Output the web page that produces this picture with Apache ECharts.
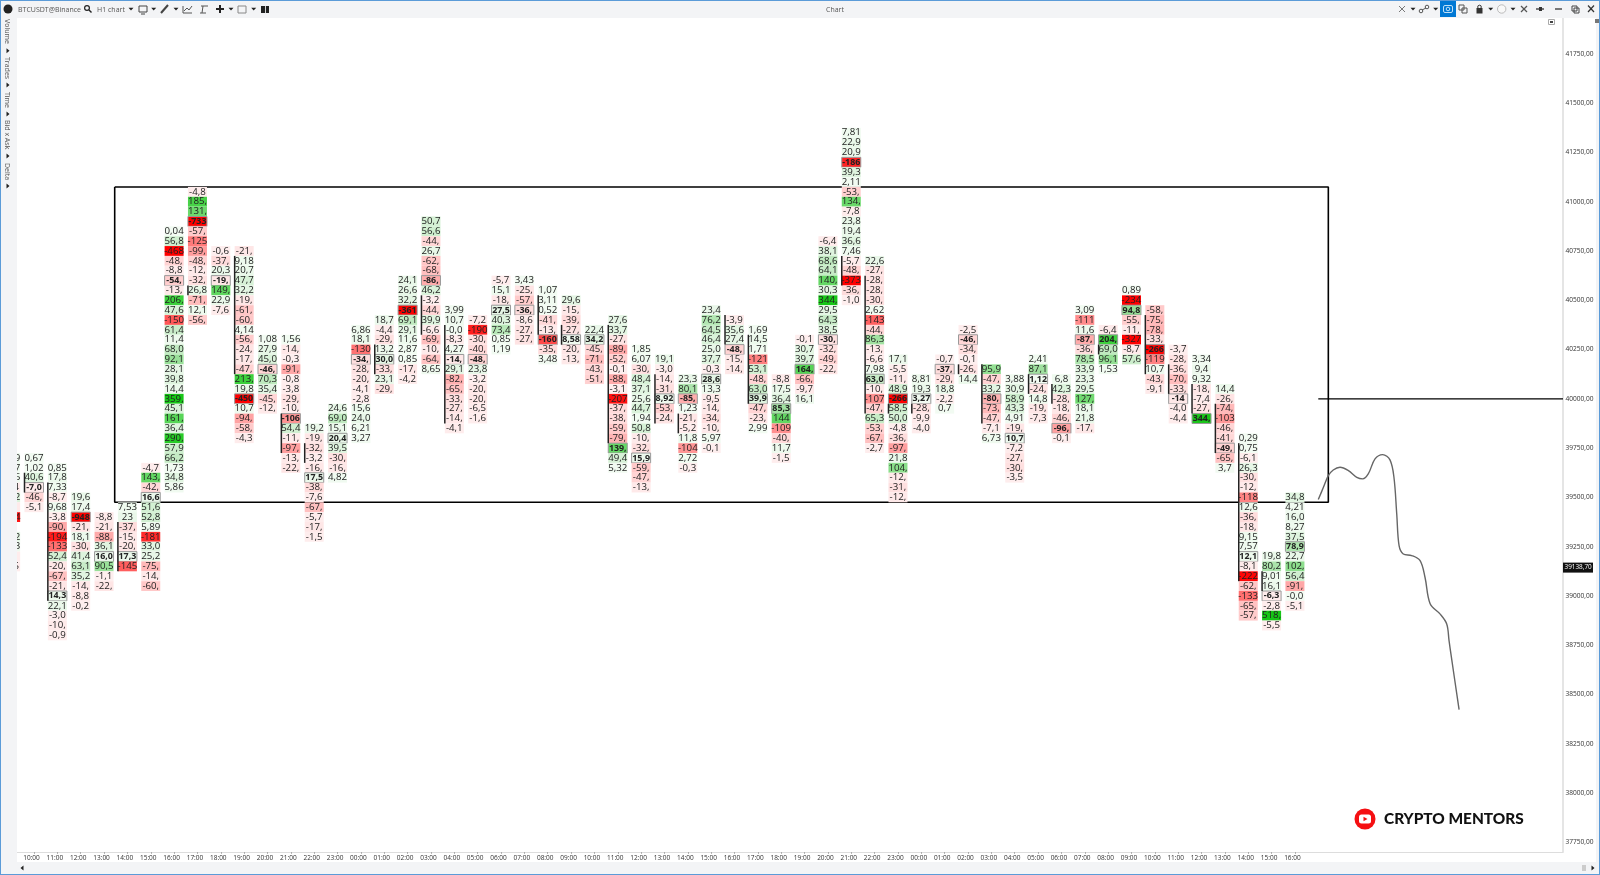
<!DOCTYPE html>
<html><head><meta charset="utf-8"><title>BTCUSDT@Binance H1 chart</title>
<script src="https://cdn.jsdelivr.net/npm/echarts@6/dist/echarts.min.js"></script>
<style>html,body{margin:0;padding:0;background:#fff}#c{width:1600px;height:875px}</style></head>
<body><div id="c"></div>
<script>
// ---- data ----
const hours = ['10:00','11:00','12:00','13:00','14:00','15:00','16:00','17:00','18:00','19:00','20:00','21:00','22:00','23:00','00:00','01:00','02:00','03:00','04:00','05:00','06:00','07:00','08:00','09:00','10:00','11:00','12:00','13:00','14:00','15:00','16:00','17:00','18:00','19:00','20:00','21:00','22:00','23:00','00:00','01:00','02:00','03:00','04:00','05:00','06:00','07:00','08:00','09:00','10:00','11:00','12:00','13:00','14:00','15:00','16:00'];
const priceTicks = [37750,38000,38250,38500,38750,39000,39250,39500,39750,40000,40250,40500,40750,41000,41250,41500,41750];
const lastPrice = 39138.70;
const firstColumn = -1;
// price of the top row of each column (first entry is the clipped 09:00 column)
const topPrice = [39700,39700,39650,39500,39400,39450,39650,40850,41050,40750,40750,40300,40300,39850,39950,40350,40400,40600,40900,40450,40400,40600,40600,40550,40500,40350,40400,40250,40200,40100,40450,40400,40350,40100,40300,40800,41350,40700,40200,40100,40200,40350,40150,40100,40200,40100,40450,40350,40550,40450,40250,40200,40050,39800,39200,39500];
const cells = [
['8,29','1,27','7,86','-8,4','42,2','-9,','-204','','32,2','9,73','-4,','-5,5'],
['0,67','1,02','40,6','-7,0','-46,','-5,1'],
['0,85','17,8','7,33','-8,7','9,68','-3,8','-90,','-194','-133','52,4','-20,','-67,','-21,','14,3','22,1','-3,0','-10,','-0,9'],
['19,6','17,4','-948','-21,','18,1','-30,','41,4','63,1','35,2','-14,','-8,8','-0,2'],
['-8,8','-21,','-88,','36,1','16,0','90,5','-1,1','-22,'],
['7,53','23','-37,','-15,','-20,','17,3','-145'],
['-4,7','143,','-42,','16,6','51,6','52,8','5,89','-181','33,0','25,2','-75,','-14,','-60,'],
['0,04','56,8','-468','-48,','-8,8','-54,','-13,','206,','47,6','-150','61,4','11,4','68,0','92,1','28,1','39,8','14,4','359,','45,1','161,','36,4','290,','57,9','66,2','1,73','34,8','5,86'],
['-4,8','185,','131,','-733','-57,','-125','-99,','-48,','-12,','-32,','26,8','-71,','12,1','-56,'],
['-0,6','-37,','20,3','-19,','149,','22,9','-7,6'],
['-21,','9,18','20,7','47,7','32,2','-19,','-61,','-60,','4,14','-56,','-24,','-17,','-47,','213,','19,8','-450','10,7','-94,','-58,','-4,3'],
['1,08','27,9','45,0','-46,','70,3','35,4','-45,','-12,'],
['1,56','-14,','-0,3','-91,','-0,8','-3,8','-29,','-10,','-106','54,4','-11,','-97,','-13,','-22,'],
['19,2','-19,','-32,','-3,2','-16,','17,5','-38,','-7,6','-67,','-5,7','-17,','-1,5'],
['24,6','69,0','15,1','20,4','39,5','-30,','-16,','4,82'],
['6,86','18,1','-130','-34,','-28,','-20,','-4,1','-2,8','15,6','24,0','6,21','3,27'],
['18,7','-4,4','-29,','13,2','30,0','-33,','23,1','-29,'],
['24,1','26,6','32,2','-361','69,1','29,1','11,6','2,87','0,85','-17,','-4,2'],
['50,7','56,6','-44,','26,7','-62,','-68,','-86,','46,2','-3,2','-44,','39,9','-6,6','-69,','-10,','-64,','8,65'],
['3,99','10,7','-0,0','-8,3','4,27','-14,','29,1','-82,','-65,','-33,','-27,','-14,','-4,1'],
['-7,2','-190','-30,','-40,','-48,','23,8','-3,2','-20,','-20,','-6,5','-1,6'],
['-5,7','15,1','-18,','27,5','40,3','73,4','0,85','1,19'],
['3,43','-25,','-57,','-36,','-8,6','-27,','-27,'],
['1,07','3,11','0,52','-41,','-13,','-160','-35,','3,48'],
['29,6','-15,','-39,','-27,','8,58','-20,','-13,'],
['22,4','34,2','-45,','-71,','-43,','-51,'],
['27,6','33,7','-27,','-89,','-52,','-0,1','-88,','-3,1','-207','-37,','-38,','-59,','-79,','139,','49,4','5,32'],
['1,85','6,07','-30,','48,4','37,1','25,6','44,7','1,94','50,8','-10,','-32,','15,9','-59,','-47,','-13,'],
['19,1','-3,0','-14,','-31,','8,92','-53,','-24,'],
['23,3','80,1','-85,','1,23','-21,','-5,2','11,8','-104','2,72','-0,3'],
['23,4','76,2','64,5','46,4','25,0','37,7','-0,3','28,6','13,3','-9,5','-14,','-34,','-10,','5,97','-0,1'],
['-3,9','35,6','27,4','-48,','-15,','-14,'],
['1,69','14,5','1,71','-121','53,1','-48,','63,0','39,9','-47,','-23,','2,99'],
['-8,8','17,5','36,4','85,3','144','-109','-40,','11,7','-1,5'],
['-0,1','30,7','39,7','164,','-66,','-9,7','16,1'],
['-6,4','38,1','68,6','64,1','140,','30,3','344,','29,5','64,3','38,5','-30,','-32,','-49,','-22,'],
['7,81','22,9','20,9','-186','39,3','2,11','-53,','134,','-7,8','23,8','19,4','36,6','7,46','-5,7','-48,','-373','-36,','-1,0'],
['22,6','-27,','-28,','-28,','-30,','2,62','-143','-44,','86,3','-13,','-6,6','7,98','63,0','-10,','-107','-47,','65,3','-53,','-67,','-2,7'],
['17,1','-5,5','-11,','48,9','-266','58,5','50,0','-4,8','-36,','-97,','21,8','104,','-12,','-31,','-12,'],
['8,81','19,3','3,27','-28,','-9,9','-4,0'],
['-0,7','-37,','-29,','18,8','-2,2','0,7'],
['-2,5','-46,','-34,','-0,1','-26,','14,4'],
['95,9','-47,','33,2','-80,','-73,','-47,','-7,1','6,73'],
['3,88','30,9','58,9','43,3','4,91','-19,','10,7','-7,2','-27,','-30,','-3,5'],
['2,41','87,1','1,12','-24,','14,8','-19,','-7,3'],
['6,8','42,3','-28,','-18,','-46,','-96,','-0,1'],
['3,09','-111','11,6','-87,','-36,','78,5','33,9','23,3','29,5','127,','18,1','21,8','-17,'],
['-6,4','204,','69,0','96,1','1,53'],
['0,89','-234','94,8','-55,','-11,','-327','-8,7','57,6'],
['-58,','-75,','-78,','-33,','-266','-119','10,7','-43,','-9,1'],
['-3,7','-28,','-36,','-70,','-33,','-14','-4,0','-4,4'],
['3,34','9,4','9,32','-18,','-7,4','-27,','344,'],
['14,4','-26,','-74,','-103','-46,','-41,','-49,','-65,','3,7'],
['0,29','0,75','-6,1','26,3','-30,','-12,','-118','12,6','-36,','-18,','9,15','7,57','12,1','-8,1','-222','-62,','-133','-65,','-57,'],
['19,8','80,2','9,01','16,1','-6,3','-2,8','518,','-5,5'],
['34,8','4,21','16,0','8,27','37,5','78,9','22,7','102,','56,4','-91,','-0,0','-5,1']
];
// row of the point of control in each column (-1 = none visible)
const pocRow = [-1,3,13,2,4,5,3,5,3,3,15,3,8,5,3,3,4,3,6,5,4,3,3,5,4,1,13,11,4,2,7,3,7,3,3,10,3,12,4,2,1,1,3,6,2,5,3,1,2,4,5,6,6,12,4,5];
// first and last row of the value-area bar in each column (-1 = no bar)
const vaFrom = [-1,2,2,-1,-1,2,-1,-1,10,-1,1,-1,8,2,-1,-1,3,-1,8,2,-1,-1,-1,1,3,-1,1,-1,2,4,-1,0,1,-1,-1,-1,13,2,5,3,-1,4,0,-1,2,1,-1,2,-1,1,2,3,2,1,2,-1];
const vaTo   = [-1,3,13,-1,-1,6,-1,-1,10,-1,12,-1,11,3,-1,-1,5,-1,11,11,-1,-1,-1,4,4,-1,12,-1,6,5,-1,2,7,-1,-1,-1,15,15,5,3,-1,4,5,-1,3,2,-1,2,-1,6,4,5,6,14,3,-1];
// annotations drawn on the chart, in candle index / price units
const boxLeft = 3.456, boxRight = 55.43, boxTop = 41075, boxBottom = 39475;
const levelPrice = 40000, levelStart = 55;
const sketchIndex = [55.0,55.22,55.43,55.64,55.93,56.29,56.65,56.9,57.14,57.43,57.76,58.07,58.24,58.36,58.46,58.64,59.0,59.36,59.57,59.79,60.21,60.5,60.6,60.68,61.03];
const sketchPrice = [39489,39551,39610,39639,39653,39636,39602,39594,39619,39695,39717,39690,39602,39416,39255,39213,39205,39179,39095,38960,38909,38858,38773,38706,38423];

// ---- helpers ----
const FONT = '"Open Sans",sans-serif';
const STEP = 50, XMIN = -0.728, XMAX = 65.48, YMIN = 37701, YMAX = 41932;
function lerp(a,b,t){return a.map((v,i)=>Math.round(v+(b[i]-v)*t));}
function ramp(st,v){
  for(let i=1;i<st.length;i++){ if(v<=st[i][0]){
    const t=(v-st[i-1][0])/(st[i][0]-st[i-1][0]);
    const c=lerp(st[i-1][1],st[i][1],Math.max(0,t)); return 'rgb('+c.join(',')+')'; } }
  const c=st[st.length-1][1]; return 'rgb('+c.join(',')+')';
}
const redRamp=[[0,[254,238,238]],[25,[254,228,228]],[50,[255,210,210]],[90,[255,168,168]],[130,[255,115,115]],[190,[255,30,30]],[230,[255,0,0]]];
const greenRamp=[[0,[242,251,242]],[25,[232,247,232]],[45,[218,242,218]],[65,[198,235,198]],[90,[154,224,154]],[135,[104,216,104]],[200,[62,208,62]],[350,[22,198,22]]];
function fill(v){return v<0?ramp(redRamp,-v):ramp(greenRamp,v);}
const rows=[]; const bars=[];
cells.forEach((col,c)=>{
  col.forEach((s,r)=>{ if(s==='')return;
    const isPoc=pocRow[c]===r;
    rows.push({x:c+firstColumn,p:topPrice[c]-STEP*r,s:s,v:parseFloat(s.replace(',','.')),poc:isPoc});
  });
  if(vaFrom[c]>=0) bars.push({x:c+firstColumn,from:topPrice[c]-STEP*vaFrom[c]+STEP/2,to:topPrice[c]-STEP*vaTo[c]-STEP/2});
});
function cellItem(params,api){
  const d=rows[params.dataIndex];
  const pt=api.coord([d.x,d.p]);
  const w=api.size([0.814,0])[0], h=api.size([0,STEP])[1];
  const kids=[{type:'rect',shape:{x:pt[0]-w/2,y:pt[1]-h/2,width:w,height:h},
    style:{fill:fill(d.v),stroke:d.poc?'#999':null,lineWidth:d.poc?1:0}},
    {type:'text',style:{text:d.s,x:pt[0],y:pt[1],align:'center',verticalAlign:'middle',
      font:(d.poc?'700 8.9px ':'400 9.7px ')+FONT,fill:'#222'}}];
  return {type:'group',children:kids};
}
function barItem(params,api){
  const d=bars[params.dataIndex];
  const a=api.coord([d.x,d.from]), b=api.coord([d.x,d.to]);
  const w=api.size([0.814,0])[0];
  return {type:'line',shape:{x1:a[0]-w/2,y1:a[1],x2:b[0]-w/2,y2:b[1]},style:{stroke:'#222',lineWidth:1.5}};
}
function tagItem(params,api){
  const pt=api.coord([XMAX,lastPrice]);
  return {type:'group',children:[
    {type:'rect',shape:{x:pt[0],y:pt[1]-6,width:30,height:10},style:{fill:'#111'}},
    {type:'text',style:{text:lastPrice.toFixed(2).replace('.',','),x:pt[0]+1.5,y:pt[1]-1,align:'left',verticalAlign:'middle',font:'6.4px '+FONT,fill:'#fff'}}
  ]};
}
// ---- window chrome ----
const G=[];
const bg='#f3f4f6', ink='#555';
function R(x,y,w,h,f,z){G.push({type:'rect',shape:{x,y,width:w,height:h},style:{fill:f},z:z||10,silent:true});}
function T(t,x,y,o){G.push(Object.assign({type:'text',x,y,z:12,silent:true,style:Object.assign({text:t,font:'7px '+FONT,fill:ink,align:'left',verticalAlign:'middle'},o||{})}));}
function tri(x,y,d){const p=d==='r'?[[x-1.5,y-2.5],[x+1.5,y],[x-1.5,y+2.5]]:d==='l'?[[x+1.5,y-2.5],[x-1.5,y],[x+1.5,y+2.5]]:[[x-2.5,y-1.2],[x+2.5,y-1.2],[x,y+1.5]];
  G.push({type:'polygon',shape:{points:p},style:{fill:'#222'},z:12,silent:true});}
function L(x1,y1,x2,y2,c,w){G.push({type:'line',shape:{x1,y1,x2,y2},style:{stroke:c||'#444',lineWidth:w||1},z:12,silent:true});}
function C(cx,cy,r,f,s,w){G.push({type:'circle',shape:{cx,cy,r},style:{fill:f||null,stroke:s||null,lineWidth:w||1},z:12,silent:true});}
function B(x,y,w,h,s){G.push({type:'rect',shape:{x,y,width:w,height:h},style:{fill:null,stroke:s||'#555',lineWidth:1},z:12,silent:true});}
R(0,0,1600,18,bg); R(0,18,17,844,bg); R(0,862,1600,13,bg); R(1596,18,4,844,bg);
R(0,0,1600,1,'#5b9bd8',13); R(0,0,1,875,'#5b9bd8',13); R(0,874,1600,1,'#5b9bd8',13); R(1599,0,1,875,'#5b9bd8',13);
C(8,9,4.5,'#222');
T('BTCUSDT@Binance',18,9.5);
C(87,8,2.4,null,'#222',1.2); L(89,10,91.5,12.5,'#222',1.4);
T('H1 chart',97,9.5); tri(131,9);
B(139,6,8,6,'#444'); L(141,14,145,14,'#444'); tri(153.7,9);
L(161,13,168,5,'#444',2); tri(176,9);
L(183,6,183,13,'#555'); L(183,13,192,13,'#555'); L(184,11,187,8,'#555'); L(187,8,189,10,'#555'); L(189,10,192,6,'#555');
L(201,6,208,6,'#555'); L(203,6,202,13,'#555'); L(200,13,206,13,'#555');
L(216,9,224,9,'#222',2); L(220,5,220,13,'#222',2); tri(231,9);
B(238,6,8,7,'#888'); tri(253.7,9);
R(261,6,8,7,'#222',12); R(265,6,.8,7,'#fff',13);
T('Chart',835,9.5,{align:'center'});
L(1399,6,1405,12,'#777'); L(1405,6,1399,12,'#777'); tri(1413,9);
C(1421,11,1.8,null,'#555'); C(1427,7,1.8,null,'#555'); L(1422,10,1426,8,'#555'); tri(1435.7,9);
R(1440,1,16,16,'#0078d4',12);
G.push({type:'rect',shape:{x:1443.5,y:5.5,width:9,height:7,r:1.5},style:{fill:null,stroke:'#bfe0f7',lineWidth:1},z:13,silent:true});
C(1448,9,1.8,null,'#bfe0f7');
B(1459,5,5,5,'#555'); B(1462,8,5,5,'#555');
R(1476.5,8,6,5.5,'#333',12); C(1479.5,7,1.8,null,'#333'); tri(1490.7,9);
C(1501.7,9,4.2,'#f8f8f8','#bbb'); tri(1513,9);
L(1521,6,1527,12,'#555',1.3); L(1527,6,1521,12,'#555',1.3);
L(1536,9,1544,9,'#333',1.3); R(1539,7,3,4,'#333',12);
L(1555,9,1562,9,'#333',1.3);
B(1572,6,5,5,'#444'); B(1574,8,5,5,'#444');
L(1588,5.5,1594,12,'#333',1.2); L(1594,5.5,1588,12,'#333',1.2);
B(1548.5,19.5,6,5,'#aaa'); R(1550,21,3,2,'#444',12);
R(1595,19,4,4,'#777',12);
const side=[['Volume',19],['Trades',57],['Time',92],['Bid x Ask',120],['Delta',163]];
side.forEach(s=>G.push({type:'text',x:7,y:s[1],rotation:-Math.PI/2,z:12,silent:true,style:{text:s[0],font:'7px '+FONT,fill:ink,align:'left',verticalAlign:'middle'}}));
[50.7,85,114,156,186].forEach(y=>tri(8,y,'r'));
tri(22,868,'l'); R(1582,865,4,6,'#ccc',12); tri(1593,868,'r');
// watermark
C(1365,819,10.5,'#f50f12');
G.push({type:'rect',shape:{x:1359,y:814.5,width:12,height:9,r:2.5},style:{fill:'#fff'},z:13,silent:true});
G.push({type:'polygon',shape:{points:[[1363.5,816.7],[1367.5,819],[1363.5,821.3]]},style:{fill:'#f50f12'},z:14,silent:true});
T('CRYPTO MENTORS',1384,819,{font:'900 15.4px Lato,sans-serif',fill:'#111'});

// ---- chart ----
const chart=echarts.init(document.getElementById('c'),null,{renderer:'canvas'});
chart.setOption({
  animation:false,
  backgroundColor:'#fff',
  graphic:{elements:G},
  grid:{left:17,right:37,top:18,bottom:23,containLabel:false},
  tooltip:{show:false},
  xAxis:{type:'value',min:XMIN,max:XMAX,splitLine:{show:false},
    axisLine:{show:true,onZero:false,lineStyle:{color:'#ddd',width:1}},
    axisTick:{show:true,customValues:hours.map((h,i)=>i),length:2,lineStyle:{color:'#888',width:.6}},
    axisLabel:{customValues:hours.map((h,i)=>i),formatter:v=>hours[Math.round(v)],fontFamily:'"Open Sans"',fontSize:6.5,color:'#333',margin:3,padding:[0,5,0,0],hideOverlap:false}},
  yAxis:{type:'value',position:'right',min:YMIN,max:YMAX,splitLine:{show:false},
    axisLine:{show:true,onZero:false,lineStyle:{color:'#ddd',width:1.5}},axisTick:{show:false},
    axisLabel:{customValues:priceTicks,formatter:v=>v.toFixed(2).replace('.',','),fontFamily:'"Open Sans"',fontSize:6.6,color:'#333',margin:2.5}},
  series:[
    {type:'line',z:1,silent:true,showSymbol:false,lineStyle:{color:'#000',width:1.6},
     data:[[boxLeft,boxTop],[boxRight,boxTop],[boxRight,boxBottom],[boxLeft,boxBottom],[boxLeft,boxTop]]},
    {type:'line',z:1,silent:true,showSymbol:false,lineStyle:{color:'#000',width:1.2},
     data:[[levelStart,levelPrice],[XMAX,levelPrice]]},
    {type:'custom',z:2,clip:true,silent:true,renderItem:cellItem,data:rows.map(r=>[r.x,r.p]),encode:{x:0,y:1}},
    {type:'custom',z:3,clip:true,silent:true,renderItem:barItem,data:bars.map(b=>[b.x,b.from]),encode:{x:0,y:1}},
    {type:'line',z:4,silent:true,showSymbol:false,smooth:0.35,lineStyle:{color:'#666',width:1.4},
     data:sketchIndex.map((x,i)=>[x,sketchPrice[i]])},
    {type:'custom',z:5,clip:false,silent:true,renderItem:tagItem,data:[[XMAX,lastPrice]],encode:{x:0,y:1}}
  ]
});
</script></body></html>
